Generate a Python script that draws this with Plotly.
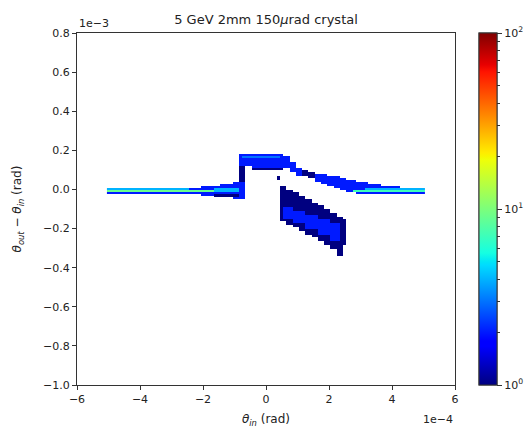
import numpy as np
import plotly.graph_objects as go

# ---------------- data (theta_in in units of 1e-4 rad, deflection in 1e-3 rad) ----------------
x_tick_vals = [-6, -4, -2, 0, 2, 4, 6]
x_tick_text = ["−6", "−4", "−2", "0", "2", "4", "6"]
y_tick_vals = [0.8, 0.6, 0.4, 0.2, 0.0, -0.2, -0.4, -0.6, -0.8, -1.0]
y_tick_text = ["0.8", "0.6", "0.4", "0.2", "0.0", "−0.2", "−0.4", "−0.6", "−0.8", "−1.0"]
cbar_major = [1, 10, 100]
cbar_major_text = ["10<sup>0</sup>", "10<sup>1</sup>", "10<sup>2</sup>"]
cbar_minor = [2, 3, 4, 5, 6, 7, 8, 9, 20, 30, 40, 50, 60, 70, 80, 90]

# histogram content: (x_from, x_to, y_from, y_to, counts per bin)
left_band = [
    (-5.05, -3.0, -0.015, 0.005, 2),
    (-3.0, -2.0, -0.02, 0.01, 2),
    (-2.0, -1.4, -0.025, 0.02, 2),
    (-1.4, -1.0, -0.035, 0.03, 2),
    (-1.0, -0.7, -0.05, 0.035, 2),
    (-1.6, -0.9, -0.035, -0.025, 1),
    (-5.05, -2.5, 0.005, 0.005, 4),
    (-5.05, -1.6, -0.005, -0.005, 9),
    (-1.6, -0.9, -0.005, 0.005, 4),
]
spray = [
    (-0.8, -0.7, 0.04, 0.12, 1),
]
plateau = [
    (-0.8, -0.4, 0.12, 0.145, 2),
    (-0.4, 0.55, 0.10, 0.175, 2),
    (-0.8, -0.4, 0.145, 0.175, 2),
    (-0.7, 0.45, 0.165, 0.165, 3),
    (-0.4, 0.55, 0.105, 0.105, 1),
]
slope_band = [
    (0.55, 0.75, 0.11, 0.165, 2),
    (0.75, 0.95, 0.095, 0.14, 2),
    (0.95, 1.15, 0.075, 0.11, 2),
    (1.15, 1.35, 0.07, 0.10, 1),
    (1.35, 1.55, 0.06, 0.09, 1),
    (1.55, 1.75, 0.045, 0.08, 2),
    (1.75, 1.95, 0.035, 0.075, 2),
    (1.95, 2.15, 0.02, 0.07, 2),
    (2.15, 2.35, 0.01, 0.065, 2),
    (2.35, 2.55, 0.0, 0.06, 2),
    (2.55, 2.85, -0.01, 0.05, 2),
]
right_band = [
    (2.85, 3.25, -0.015, 0.04, 2),
    (3.25, 3.65, -0.015, 0.03, 2),
    (3.65, 4.25, -0.015, 0.02, 2),
    (4.25, 5.05, -0.015, 0.01, 2),
    (3.2, 5.05, 0.005, 0.005, 4),
    (2.75, 5.05, -0.005, -0.005, 7),
]
lower_lobe = [
    (0.45, 0.65, -0.16, 0.02, 1),
    (0.65, 0.85, -0.175, 0.0, 1),
    (0.85, 1.05, -0.19, -0.015, 1),
    (1.05, 1.25, -0.21, -0.035, 1),
    (1.25, 1.45, -0.225, -0.05, 1),
    (1.45, 1.65, -0.24, -0.07, 1),
    (1.65, 1.85, -0.26, -0.085, 1),
    (1.85, 2.05, -0.28, -0.10, 1),
    (2.05, 2.25, -0.30, -0.12, 1),
    (2.25, 2.45, -0.34, -0.14, 1),
    (2.45, 2.55, -0.28, -0.15, 1),
    (0.55, 0.85, -0.15, -0.09, 2),
    (0.85, 1.25, -0.17, -0.11, 2),
    (1.25, 1.65, -0.20, -0.13, 2),
    (1.65, 2.05, -0.23, -0.15, 2),
    (2.05, 2.35, -0.26, -0.17, 2),
]
stray = [
    (0.35, 0.4, 0.055, 0.065, 1),
]

# ---------------- histogram grid ----------------
x_centers = np.round(np.arange(-5.0, 5.0001, 0.1), 3)
y_centers = np.round(np.arange(-0.355, 0.1951, 0.01), 4)
counts = np.full((len(y_centers), len(x_centers)), np.nan)
eps = 1e-6
for blocks in (left_band, spray, plateau, slope_band, right_band, lower_lobe, stray):
    for x0, x1, y0, y1, c in blocks:
        xi = (x_centers >= x0 - eps) & (x_centers <= x1 + eps)
        yi = (y_centers >= y0 - eps) & (y_centers <= y1 + eps)
        counts[np.ix_(yi, xi)] = c
zlog = np.log10(counts)

# matplotlib "jet" colormap
jet = {
    "r": [(0, 0), (0.35, 0), (0.66, 1), (0.89, 1), (1, 0.5)],
    "g": [(0, 0), (0.125, 0), (0.375, 1), (0.64, 1), (0.91, 0), (1, 0)],
    "b": [(0, 0.5), (0.11, 1), (0.34, 1), (0.65, 0), (1, 0)],
}
stops = sorted({p for ch in jet.values() for p, _ in ch})
colorscale = []
for s in stops:
    rgb = [np.interp(s, [p for p, _ in jet[k]], [v for _, v in jet[k]]) for k in "rgb"]
    colorscale.append([s, "rgb(%d,%d,%d)" % tuple(int(round(255 * v)) for v in rgb)])

font = "DejaVu Sans"
cb_x = (479 - 77) / 378.0
fig = go.Figure()
fig.add_trace(go.Heatmap(
    x=x_centers, y=y_centers, z=zlog, zmin=0, zmax=2, colorscale=colorscale,
    hoverongaps=False,
    colorbar=dict(
        x=cb_x, xanchor="left", xpad=0, ypad=0, y=0, yanchor="bottom", len=1, lenmode="fraction",
        thickness=18, thicknessmode="pixels", outlinewidth=1, outlinecolor="#333",
        tickvals=np.log10(cbar_major).tolist(), ticktext=cbar_major_text,
        ticks="outside", ticklen=5, tickcolor="#333", tickwidth=1,
        tickfont=dict(family=font, size=11, color="#222"),
    ),
))
fig.add_trace(go.Scatter(
    x=[0], y=[0.5], mode="markers", hoverinfo="skip", showlegend=False,
    marker=dict(size=1, opacity=0, color=[1], cmin=0, cmax=2, colorscale=colorscale,
                showscale=True,
                colorbar=dict(
                    x=cb_x, xanchor="left", xpad=0, ypad=0, y=0, yanchor="bottom", len=1,
                    lenmode="fraction",
                    thickness=18, thicknessmode="pixels", outlinewidth=1, outlinecolor="#333",
                    tickvals=np.log10(cbar_minor).tolist(),
                    ticks="outside", ticklen=3, tickcolor="#333", tickwidth=1,
                    showticklabels=False,
                )),
))

axis_common = dict(showline=True, linecolor="#333", linewidth=1, mirror=True,
                   ticks="outside", ticklen=4, tickcolor="#333", tickwidth=1,
                   showgrid=False, zeroline=False,
                   tickfont=dict(family=font, size=11, color="#222"))
fig.update_layout(
    width=532, height=428,
    margin=dict(l=77, r=77, t=33, b=43, autoexpand=False),
    paper_bgcolor="white", plot_bgcolor="white",
    font=dict(family=font, color="#222"),
    title=dict(text="5 GeV 2mm 150<i>μ</i>rad crystal", x=0.5, xref="paper",
               y=1 - 19 / 428, yref="container", yanchor="middle",
               font=dict(family=font, size=13, color="#222")),
    xaxis=dict(range=[-6, 6], tickvals=x_tick_vals, ticktext=x_tick_text,
               title=dict(text="<i>θ</i><sub><i>in</i></sub> (rad)", standoff=10,
                          font=dict(family=font, size=12, color="#222")),
               **axis_common),
    yaxis=dict(range=[-1.0, 0.8], tickvals=y_tick_vals, ticktext=y_tick_text,
               title=dict(text="<i>θ</i><sub><i>out</i></sub> − <i>θ</i><sub><i>in</i></sub> (rad)",
                          standoff=18, font=dict(family=font, size=12, color="#222")),
               **axis_common),
    annotations=[
        dict(text="1e−3", xref="paper", yref="paper", x=0, y=1, xanchor="left",
             yanchor="bottom", showarrow=False, yshift=1,
             font=dict(family=font, size=11, color="#222")),
        dict(text="1e−4", xref="paper", yref="paper", x=1, y=0, xanchor="right",
             yanchor="top", showarrow=False, yshift=-26,
             font=dict(family=font, size=11, color="#222")),
    ],
)
fig.write_html("out.html")
